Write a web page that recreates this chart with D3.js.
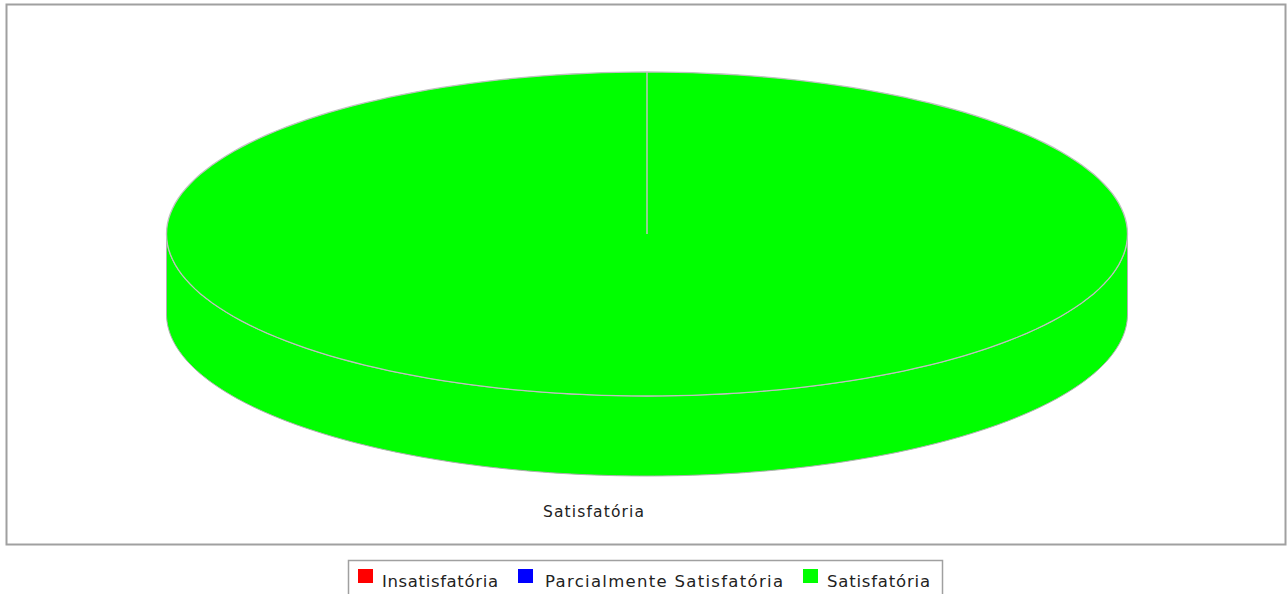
<!DOCTYPE html>
<html><head><meta charset="utf-8">
<script src="https://cdn.jsdelivr.net/npm/d3@7"></script>
<style>body{margin:0;background:#fff;overflow:hidden}svg{display:block}</style>
</head><body>
<script>
const categories = ["Insatisfatória", "Parcialmente Satisfatória", "Satisfatória"];
const values = [0, 0, 100];
const colors = ["#ff0000", "#0000ff", "#00ff00"];

const W = 1287, H = 594;
const svg = d3.select("body").append("svg").attr("width", W).attr("height", H);

// plot border
svg.append("rect").attr("x", 6.5).attr("y", 4.5).attr("width", 1279).attr("height", 540)
  .attr("fill", "#fff").attr("stroke", "#a0a0a0").attr("stroke-width", 2);

const cx = 647, cy = 234, rx = 480.5, ry = 162, depth = 80;
const xs = d3.scaleLinear().domain([-1, 1]).range([cx - rx, cx + rx]);
const ys = d3.scaleLinear().domain([-1, 1]).range([cy + ry, cy - ry]);
const pt = (a, dy = 0) => [xs(Math.sin(a)), ys(Math.cos(a)) + dy];

const pie = d3.pie().sort(null).value(d => d.v);
const arcs = pie(categories.map((c, i) => ({c, v: values[i], col: colors[i]})))
  .filter(d => d.value > 0);

const N = 200;
function arcPts(a0, a1, dy) {
  const p = [];
  for (let k = 0; k <= N; k++) p.push(pt(a0 + (a1 - a0) * k / N, dy));
  return p;
}
const line = d3.line();

// side faces (front half: angles π/2 .. 3π/2)
arcs.forEach(d => {
  const s = Math.max(d.startAngle, Math.PI / 2), e = Math.min(d.endAngle, 3 * Math.PI / 2);
  if (e <= s) return;
  const top = arcPts(s, e, 0), bot = arcPts(e, s, depth);
  svg.append("path").attr("d", line(top.concat(bot)) + "Z")
    .attr("fill", d.data.col).attr("stroke", "#b0b0b0").attr("stroke-width", 1);
});

// top faces
arcs.forEach(d => {
  const pts = [[cx, cy]].concat(arcPts(d.startAngle, d.endAngle, 0));
  svg.append("path").attr("d", line(pts) + "Z")
    .attr("fill", d.data.col).attr("stroke", "none");
  svg.append("path").attr("d", line(arcPts(d.startAngle, d.endAngle, 0)))
    .attr("fill", "none").attr("stroke", "#c0c0c0").attr("stroke-width", 1.3);
  [d.startAngle].forEach(a => {
    const p = pt(a);
    svg.append("line").attr("x1", cx).attr("y1", cy).attr("x2", p[0]).attr("y2", p[1])
      .attr("stroke", "#c0c0c0").attr("stroke-width", 1.5);
  });
});

// slice label
arcs.forEach(d => {
  svg.append("text").attr("x", 543).attr("y", 517)
    .attr("font-family", "DejaVu Sans, sans-serif").attr("font-size", 15.5)
    .attr("fill", "#222").attr("textLength", 101).attr("lengthAdjust", "spacing")
    .text(d.data.c);
});

// legend
const lg = svg.append("g");
lg.append("rect").attr("x", 348.5).attr("y", 560.5).attr("width", 594).attr("height", 40)
  .attr("fill", "#fff").attr("stroke", "#a0a0a0").attr("stroke-width", 1.5);
const lx = [358, 518, 803];
const tx = [382, 545, 827];
const tw = [116, 238, 103];
categories.forEach((c, i) => {
  lg.append("rect").attr("x", lx[i]).attr("y", 569).attr("width", 15).attr("height", 14)
    .attr("fill", colors[i]);
  lg.append("text").attr("x", tx[i]).attr("y", 587)
    .attr("font-family", "DejaVu Sans, sans-serif").attr("font-size", 16.5)
    .attr("fill", "#222").attr("textLength", tw[i]).attr("lengthAdjust", "spacing").text(c);
});
</script>
</body></html>
